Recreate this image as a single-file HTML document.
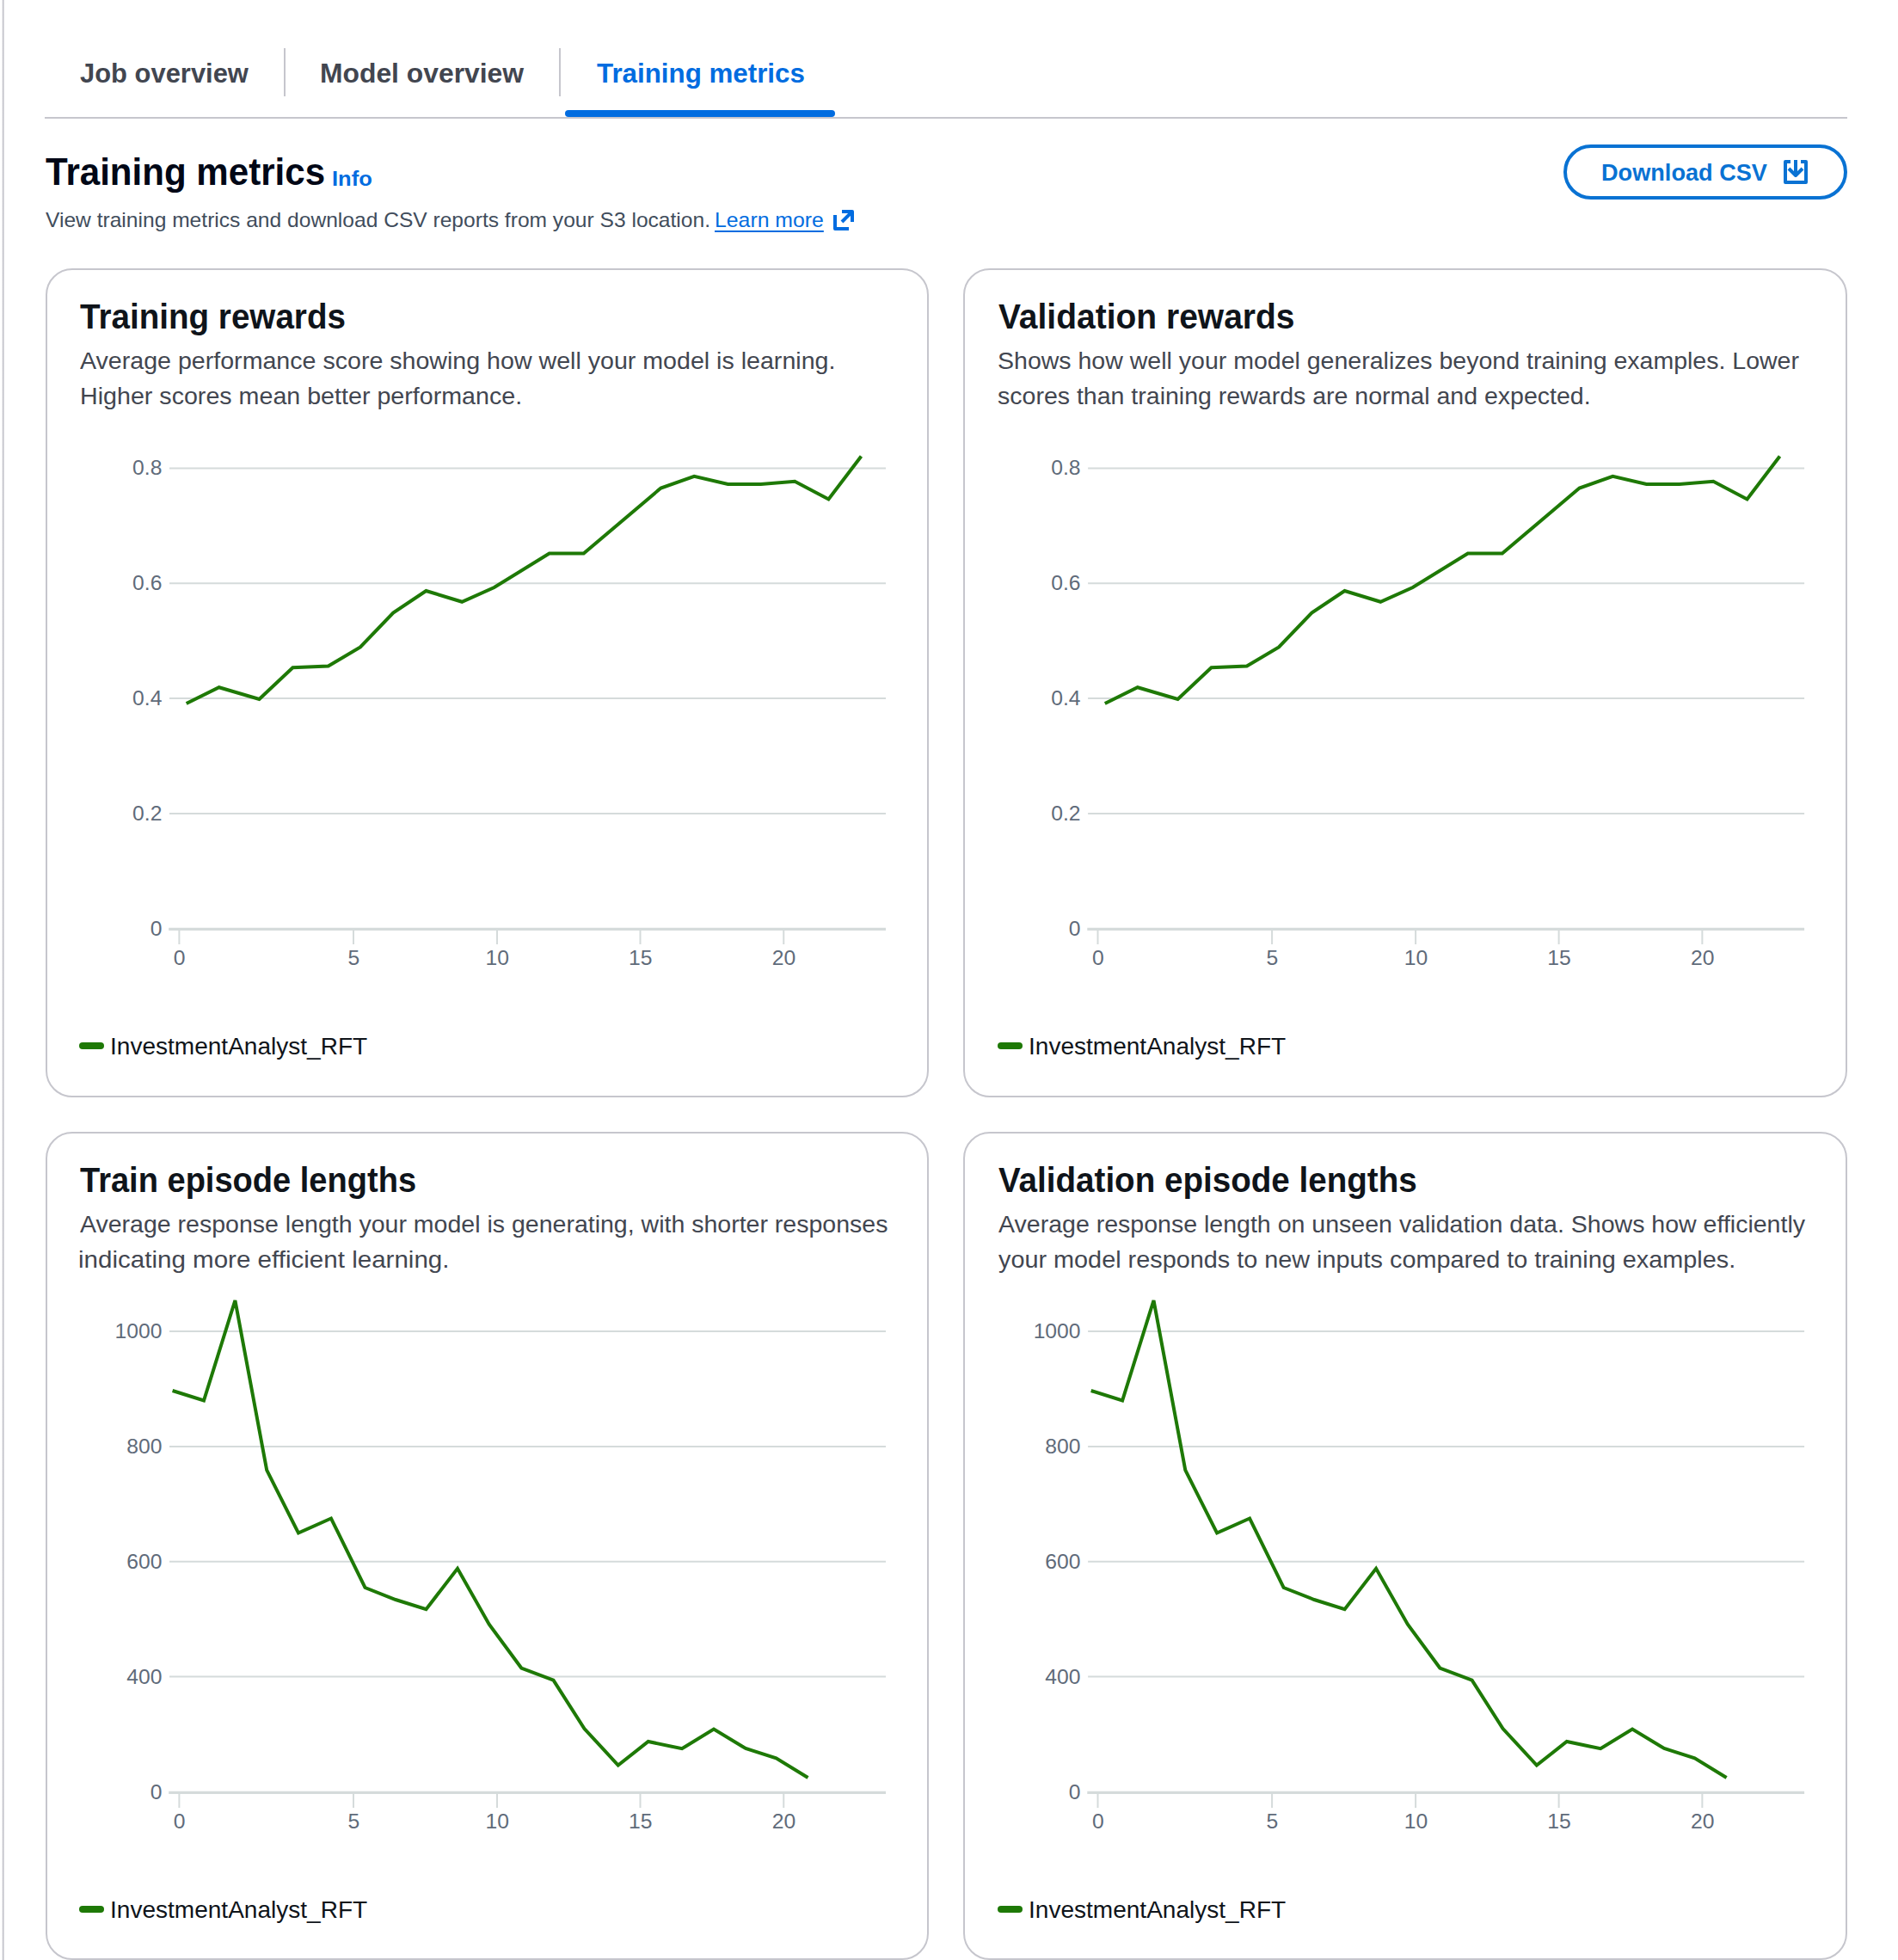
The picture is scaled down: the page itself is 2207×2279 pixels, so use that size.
<!DOCTYPE html>
<html lang="en"><head><meta charset="utf-8"><title>Training metrics</title>
<style>
html,body{margin:0;padding:0;background:#fff;}
body{width:2207px;height:2279px;position:relative;overflow:hidden;font-family:"Liberation Sans",sans-serif;}
nav,header,main,p,.legend{margin:0;padding:0;position:static;}
.t{position:absolute;margin:0;white-space:nowrap;transform-origin:0 50%;text-decoration:none;display:block;}
.leftbar{position:absolute;left:2px;top:0;width:3px;height:2279px;background:linear-gradient(to right,rgba(198,198,205,.3) 0 1px,#c6c6cd 1px 2px,rgba(198,198,205,.65) 2px 3px);}
.tabline{position:absolute;left:52.4px;top:136px;width:2096px;height:2px;background:#c6c6cd;}
.tabdiv{position:absolute;top:56px;width:2px;height:56px;background:#c6c6cd;}
.tabactive{position:absolute;left:656.5px;top:128.3px;width:314px;height:8px;border-radius:4px;background:#006ce0;}
.learn{text-decoration:underline;text-underline-offset:3.8px;text-decoration-thickness:2px;}
.btn{position:absolute;left:1818px;top:168px;width:330px;height:64px;box-sizing:border-box;border:4px solid #0972d3;border-radius:32px;background:#fff;padding:0;margin:0;font:inherit;}
.btn .t,.btn .ico{margin:-4px 0 0 -4px;}
.card{position:absolute;box-sizing:border-box;border:2px solid #c6c6cd;border-radius:31px;background:#fff;}
.card>*,.card .t,.card .mark{margin:-2px 0 0 -2px;}
.card p,.card .legend{margin:0;}
.chart{position:absolute;left:0;top:0;overflow:visible;font-family:"Liberation Sans",sans-serif;font-size:23.5px;fill:#5f6b7a;}
.mark{position:absolute;width:28.5px;height:8px;border-radius:4px;background:#1e7906;}
.ico{position:absolute;}
</style></head>
<body>
<div class="leftbar"></div>
<nav aria-label="Job detail tabs">
<a class="t tab" style="left:92.7px;top:64.2px;font-size:32.0px;line-height:42px;font-weight:700;color:#424650;transform:scaleX(0.9663)">Job overview</a>
<span class="tabdiv" style="left:330.4px"></span>
<a class="t tab" style="left:372.1px;top:64.2px;font-size:32.0px;line-height:42px;font-weight:700;color:#424650;transform:scaleX(0.9949)">Model overview</a>
<span class="tabdiv" style="left:650.3px"></span>
<a class="t tab active" aria-current="page" style="left:693.6px;top:64.2px;font-size:32.0px;line-height:42px;font-weight:700;color:#006ce0;transform:scaleX(0.9785)">Training metrics</a>
<span class="tabactive"></span>
<div class="tabline"></div>
</nav>
<header>
<h1 class="t" style="left:53.0px;top:171.3px;font-size:44.0px;line-height:57px;font-weight:700;color:#000716;transform:scaleX(0.9565)">Training metrics</h1>
<a class="t info" style="left:386.0px;top:191.8px;font-size:24.0px;line-height:31px;font-weight:700;color:#006ce0;transform:scaleX(1.0634)">Info</a>
<p class="hdesc"><span class="t" style="left:52.6px;top:240.1px;font-size:24.0px;line-height:31px;font-weight:400;color:#414d5c;transform:scaleX(1.0244)">View training metrics and download CSV reports from your S3 location.</span>
<a class="t learn" style="left:830.9px;top:240.1px;font-size:24.0px;line-height:31px;font-weight:400;color:#006ce0;transform:scaleX(1.0333)">Learn more</a>
<svg class="ico" style="left:964.9px;top:239.8px" width="32" height="32" viewBox="0 0 16 16" fill="none" stroke="#006ce0" stroke-width="2" stroke-linejoin="round" aria-hidden="true"><path d="M3 5v8h8"/><path d="M7 3h6v6"/><path d="M13 3 7 9"/></svg></p>
<button class="btn" type="button"><span class="t" style="left:44.0px;top:14.7px;font-size:28.0px;line-height:36px;font-weight:700;color:#0972d3;transform:scaleX(0.9690)">Download CSV</span><svg class="ico" style="left:254.3px;top:16.1px" width="32" height="32" viewBox="0 0 16 16" fill="none" stroke="#0972d3" stroke-width="2" stroke-linejoin="round" aria-hidden="true"><path d="M11 2h3v12H2V2h3"/><path d="m4 6 4 4 4-4"/><path d="M8 1v9"/></svg></button>
</header>
<main>
<section class="card" style="left:53px;top:312px;width:1027px;height:964px">
<h2 class="t" style="left:40.1px;top:30.1px;font-size:40.0px;line-height:52px;font-weight:700;color:#0f141a;transform:scaleX(0.9651)">Training rewards</h2>
<p class="cdesc"><span class="t" style="left:40.1px;top:90.3px;font-size:27.5px;line-height:36px;font-weight:400;color:#424650;transform:scaleX(1.0398)">Average performance score showing how well your model is learning.</span>
<span class="t" style="left:39.5px;top:130.8px;font-size:27.5px;line-height:36px;font-weight:400;color:#424650;transform:scaleX(1.0413)">Higher scores mean better performance.</span></p>
<svg class="chart" width="1027" height="964" viewBox="0 0 1027 964" role="img" aria-label="Training rewards line chart">
<g transform="translate(-53.0,-312.0)">
<line x1="197" x2="1030" y1="544.4" y2="544.4" stroke="#d5dbdb" stroke-width="2"/>
<text transform="translate(188.4,552.3) scale(1.05,1)" text-anchor="end">0.8</text>
<line x1="197" x2="1030" y1="678.2" y2="678.2" stroke="#d5dbdb" stroke-width="2"/>
<text transform="translate(188.4,686.1) scale(1.05,1)" text-anchor="end">0.6</text>
<line x1="197" x2="1030" y1="812.0" y2="812.0" stroke="#d5dbdb" stroke-width="2"/>
<text transform="translate(188.4,819.9) scale(1.05,1)" text-anchor="end">0.4</text>
<line x1="197" x2="1030" y1="945.9" y2="945.9" stroke="#d5dbdb" stroke-width="2"/>
<text transform="translate(188.4,953.8) scale(1.05,1)" text-anchor="end">0.2</text>
<line x1="196.2" x2="1030" y1="1080.3" y2="1080.3" stroke="#d5dbdb" stroke-width="3.2"/>
<text transform="translate(188.4,1088.2) scale(1.05,1)" text-anchor="end">0</text>
<line x1="208.4" x2="208.4" y1="1081" y2="1098" stroke="#d5dbdb" stroke-width="2"/>
<text transform="translate(208.70,1122.3) scale(1.05,1)" text-anchor="middle">0</text>
<line x1="411" x2="411" y1="1081" y2="1098" stroke="#d5dbdb" stroke-width="2"/>
<text transform="translate(411.30,1122.3) scale(1.05,1)" text-anchor="middle">5</text>
<line x1="578" x2="578" y1="1081" y2="1098" stroke="#d5dbdb" stroke-width="2"/>
<text transform="translate(578.30,1122.3) scale(1.05,1)" text-anchor="middle">10</text>
<line x1="744.5" x2="744.5" y1="1081" y2="1098" stroke="#d5dbdb" stroke-width="2"/>
<text transform="translate(744.80,1122.3) scale(1.05,1)" text-anchor="middle">15</text>
<line x1="911.25" x2="911.25" y1="1081" y2="1098" stroke="#d5dbdb" stroke-width="2"/>
<text transform="translate(911.55,1122.3) scale(1.05,1)" text-anchor="middle">20</text>
<polyline points="216.70,818.00 254.70,799.25 301.45,813.00 340.45,776.25 381.70,774.50 418.95,752.50 457.20,712.50 495.45,687.00 537.20,699.75 574.70,683.00 638.70,643.50 678.70,643.50 768.45,567.50 807.20,553.75 846.45,563.00 884.70,563.00 924.20,559.75 963.45,580.50 1001.45,530.50" fill="none" stroke="#1e7906" stroke-width="4" stroke-linejoin="miter" stroke-miterlimit="4"/>
</g></svg>
<div class="legend"><i class="mark" style="left:39.3px;top:900.0px"></i><span class="t" style="left:75.3px;top:886.7px;font-size:27.5px;line-height:36px;font-weight:400;color:#0f141a;transform:scaleX(1.0196)">InvestmentAnalyst_RFT</span></div>
</section>
<section class="card" style="left:1120px;top:312px;width:1028px;height:964px">
<h2 class="t" style="left:41.2px;top:30.1px;font-size:40.0px;line-height:52px;font-weight:700;color:#0f141a;transform:scaleX(0.9747)">Validation rewards</h2>
<p class="cdesc"><span class="t" style="left:40.2px;top:90.3px;font-size:27.5px;line-height:36px;font-weight:400;color:#424650;transform:scaleX(1.0369)">Shows how well your model generalizes beyond training examples. Lower</span>
<span class="t" style="left:40.2px;top:130.8px;font-size:27.5px;line-height:36px;font-weight:400;color:#424650;transform:scaleX(1.0371)">scores than training rewards are normal and expected.</span></p>
<svg class="chart" width="1028" height="964" viewBox="0 0 1028 964" role="img" aria-label="Validation rewards line chart">
<g transform="translate(-51.9,-312.0)">
<line x1="197" x2="1030" y1="544.4" y2="544.4" stroke="#d5dbdb" stroke-width="2"/>
<text transform="translate(188.4,552.3) scale(1.05,1)" text-anchor="end">0.8</text>
<line x1="197" x2="1030" y1="678.2" y2="678.2" stroke="#d5dbdb" stroke-width="2"/>
<text transform="translate(188.4,686.1) scale(1.05,1)" text-anchor="end">0.6</text>
<line x1="197" x2="1030" y1="812.0" y2="812.0" stroke="#d5dbdb" stroke-width="2"/>
<text transform="translate(188.4,819.9) scale(1.05,1)" text-anchor="end">0.4</text>
<line x1="197" x2="1030" y1="945.9" y2="945.9" stroke="#d5dbdb" stroke-width="2"/>
<text transform="translate(188.4,953.8) scale(1.05,1)" text-anchor="end">0.2</text>
<line x1="196.2" x2="1030" y1="1080.3" y2="1080.3" stroke="#d5dbdb" stroke-width="3.2"/>
<text transform="translate(188.4,1088.2) scale(1.05,1)" text-anchor="end">0</text>
<line x1="208.4" x2="208.4" y1="1081" y2="1098" stroke="#d5dbdb" stroke-width="2"/>
<text transform="translate(208.70,1122.3) scale(1.05,1)" text-anchor="middle">0</text>
<line x1="411" x2="411" y1="1081" y2="1098" stroke="#d5dbdb" stroke-width="2"/>
<text transform="translate(411.30,1122.3) scale(1.05,1)" text-anchor="middle">5</text>
<line x1="578" x2="578" y1="1081" y2="1098" stroke="#d5dbdb" stroke-width="2"/>
<text transform="translate(578.30,1122.3) scale(1.05,1)" text-anchor="middle">10</text>
<line x1="744.5" x2="744.5" y1="1081" y2="1098" stroke="#d5dbdb" stroke-width="2"/>
<text transform="translate(744.80,1122.3) scale(1.05,1)" text-anchor="middle">15</text>
<line x1="911.25" x2="911.25" y1="1081" y2="1098" stroke="#d5dbdb" stroke-width="2"/>
<text transform="translate(911.55,1122.3) scale(1.05,1)" text-anchor="middle">20</text>
<polyline points="216.70,818.00 254.70,799.25 301.45,813.00 340.45,776.25 381.70,774.50 418.95,752.50 457.20,712.50 495.45,687.00 537.20,699.75 574.70,683.00 638.70,643.50 678.70,643.50 768.45,567.50 807.20,553.75 846.45,563.00 884.70,563.00 924.20,559.75 963.45,580.50 1001.45,530.50" fill="none" stroke="#1e7906" stroke-width="4" stroke-linejoin="miter" stroke-miterlimit="4"/>
</g></svg>
<div class="legend"><i class="mark" style="left:40.4px;top:900.0px"></i><span class="t" style="left:76.4px;top:886.7px;font-size:27.5px;line-height:36px;font-weight:400;color:#0f141a;transform:scaleX(1.0196)">InvestmentAnalyst_RFT</span></div>
</section>
<section class="card" style="left:53px;top:1316px;width:1027px;height:963px">
<h2 class="t" style="left:40.1px;top:30.2px;font-size:40.0px;line-height:52px;font-weight:700;color:#0f141a;transform:scaleX(0.9510)">Train episode lengths</h2>
<p class="cdesc"><span class="t" style="left:40.1px;top:90.4px;font-size:27.5px;line-height:36px;font-weight:400;color:#424650;transform:scaleX(1.0369)">Average response length your model is generating, with shorter responses</span>
<span class="t" style="left:38.2px;top:130.9px;font-size:27.5px;line-height:36px;font-weight:400;color:#424650;transform:scaleX(1.0746)">indicating more efficient learning.</span></p>
<svg class="chart" width="1027" height="963" viewBox="0 0 1027 963" role="img" aria-label="Train episode lengths line chart">
<g transform="translate(-53.0,-311.9)">
<line x1="197" x2="1030" y1="544" y2="544" stroke="#d5dbdb" stroke-width="2"/>
<text transform="translate(188.4,551.9) scale(1.05,1)" text-anchor="end">1000</text>
<line x1="197" x2="1030" y1="677.8" y2="677.8" stroke="#d5dbdb" stroke-width="2"/>
<text transform="translate(188.4,685.7) scale(1.05,1)" text-anchor="end">800</text>
<line x1="197" x2="1030" y1="811.6" y2="811.6" stroke="#d5dbdb" stroke-width="2"/>
<text transform="translate(188.4,819.5) scale(1.05,1)" text-anchor="end">600</text>
<line x1="197" x2="1030" y1="945.5" y2="945.5" stroke="#d5dbdb" stroke-width="2"/>
<text transform="translate(188.4,953.4) scale(1.05,1)" text-anchor="end">400</text>
<line x1="196.2" x2="1030" y1="1080.3" y2="1080.3" stroke="#d5dbdb" stroke-width="3.2"/>
<text transform="translate(188.4,1088.2) scale(1.05,1)" text-anchor="end">0</text>
<line x1="208.4" x2="208.4" y1="1081" y2="1098" stroke="#d5dbdb" stroke-width="2"/>
<text transform="translate(208.70,1122.3) scale(1.05,1)" text-anchor="middle">0</text>
<line x1="411" x2="411" y1="1081" y2="1098" stroke="#d5dbdb" stroke-width="2"/>
<text transform="translate(411.30,1122.3) scale(1.05,1)" text-anchor="middle">5</text>
<line x1="578" x2="578" y1="1081" y2="1098" stroke="#d5dbdb" stroke-width="2"/>
<text transform="translate(578.30,1122.3) scale(1.05,1)" text-anchor="middle">10</text>
<line x1="744.5" x2="744.5" y1="1081" y2="1098" stroke="#d5dbdb" stroke-width="2"/>
<text transform="translate(744.80,1122.3) scale(1.05,1)" text-anchor="middle">15</text>
<line x1="911.25" x2="911.25" y1="1081" y2="1098" stroke="#d5dbdb" stroke-width="2"/>
<text transform="translate(911.55,1122.3) scale(1.05,1)" text-anchor="middle">20</text>
<polyline points="200.60,612.90 237.00,624.40 273.40,507.90 310.20,705.30 347.00,778.40 385.00,761.40 424.50,841.90 460.00,855.90 495.50,867.15 532.00,819.65 568.75,884.65 606.25,935.40 643.50,949.65 679.50,1005.90 718.75,1048.40 753.75,1020.90 793.00,1029.15 830.00,1006.40 867.00,1028.90 902.50,1040.15 939.50,1062.90" fill="none" stroke="#1e7906" stroke-width="4" stroke-linejoin="miter" stroke-miterlimit="4"/>
</g></svg>
<div class="legend"><i class="mark" style="left:39.3px;top:900.1px"></i><span class="t" style="left:75.3px;top:886.8px;font-size:27.5px;line-height:36px;font-weight:400;color:#0f141a;transform:scaleX(1.0196)">InvestmentAnalyst_RFT</span></div>
</section>
<section class="card" style="left:1120px;top:1316px;width:1028px;height:963px">
<h2 class="t" style="left:41.2px;top:30.2px;font-size:40.0px;line-height:52px;font-weight:700;color:#0f141a;transform:scaleX(0.9646)">Validation episode lengths</h2>
<p class="cdesc"><span class="t" style="left:41.2px;top:90.4px;font-size:27.5px;line-height:36px;font-weight:400;color:#424650;transform:scaleX(1.0376)">Average response length on unseen validation data. Shows how efficiently</span>
<span class="t" style="left:41.2px;top:130.9px;font-size:27.5px;line-height:36px;font-weight:400;color:#424650;transform:scaleX(1.0481)">your model responds to new inputs compared to training examples.</span></p>
<svg class="chart" width="1028" height="963" viewBox="0 0 1028 963" role="img" aria-label="Validation episode lengths line chart">
<g transform="translate(-51.9,-311.9)">
<line x1="197" x2="1030" y1="544" y2="544" stroke="#d5dbdb" stroke-width="2"/>
<text transform="translate(188.4,551.9) scale(1.05,1)" text-anchor="end">1000</text>
<line x1="197" x2="1030" y1="677.8" y2="677.8" stroke="#d5dbdb" stroke-width="2"/>
<text transform="translate(188.4,685.7) scale(1.05,1)" text-anchor="end">800</text>
<line x1="197" x2="1030" y1="811.6" y2="811.6" stroke="#d5dbdb" stroke-width="2"/>
<text transform="translate(188.4,819.5) scale(1.05,1)" text-anchor="end">600</text>
<line x1="197" x2="1030" y1="945.5" y2="945.5" stroke="#d5dbdb" stroke-width="2"/>
<text transform="translate(188.4,953.4) scale(1.05,1)" text-anchor="end">400</text>
<line x1="196.2" x2="1030" y1="1080.3" y2="1080.3" stroke="#d5dbdb" stroke-width="3.2"/>
<text transform="translate(188.4,1088.2) scale(1.05,1)" text-anchor="end">0</text>
<line x1="208.4" x2="208.4" y1="1081" y2="1098" stroke="#d5dbdb" stroke-width="2"/>
<text transform="translate(208.70,1122.3) scale(1.05,1)" text-anchor="middle">0</text>
<line x1="411" x2="411" y1="1081" y2="1098" stroke="#d5dbdb" stroke-width="2"/>
<text transform="translate(411.30,1122.3) scale(1.05,1)" text-anchor="middle">5</text>
<line x1="578" x2="578" y1="1081" y2="1098" stroke="#d5dbdb" stroke-width="2"/>
<text transform="translate(578.30,1122.3) scale(1.05,1)" text-anchor="middle">10</text>
<line x1="744.5" x2="744.5" y1="1081" y2="1098" stroke="#d5dbdb" stroke-width="2"/>
<text transform="translate(744.80,1122.3) scale(1.05,1)" text-anchor="middle">15</text>
<line x1="911.25" x2="911.25" y1="1081" y2="1098" stroke="#d5dbdb" stroke-width="2"/>
<text transform="translate(911.55,1122.3) scale(1.05,1)" text-anchor="middle">20</text>
<polyline points="200.60,612.90 237.00,624.40 273.40,507.90 310.20,705.30 347.00,778.40 385.00,761.40 424.50,841.90 460.00,855.90 495.50,867.15 532.00,819.65 568.75,884.65 606.25,935.40 643.50,949.65 679.50,1005.90 718.75,1048.40 753.75,1020.90 793.00,1029.15 830.00,1006.40 867.00,1028.90 902.50,1040.15 939.50,1062.90" fill="none" stroke="#1e7906" stroke-width="4" stroke-linejoin="miter" stroke-miterlimit="4"/>
</g></svg>
<div class="legend"><i class="mark" style="left:40.4px;top:900.1px"></i><span class="t" style="left:76.4px;top:886.8px;font-size:27.5px;line-height:36px;font-weight:400;color:#0f141a;transform:scaleX(1.0196)">InvestmentAnalyst_RFT</span></div>
</section>
</main>
</body></html>
